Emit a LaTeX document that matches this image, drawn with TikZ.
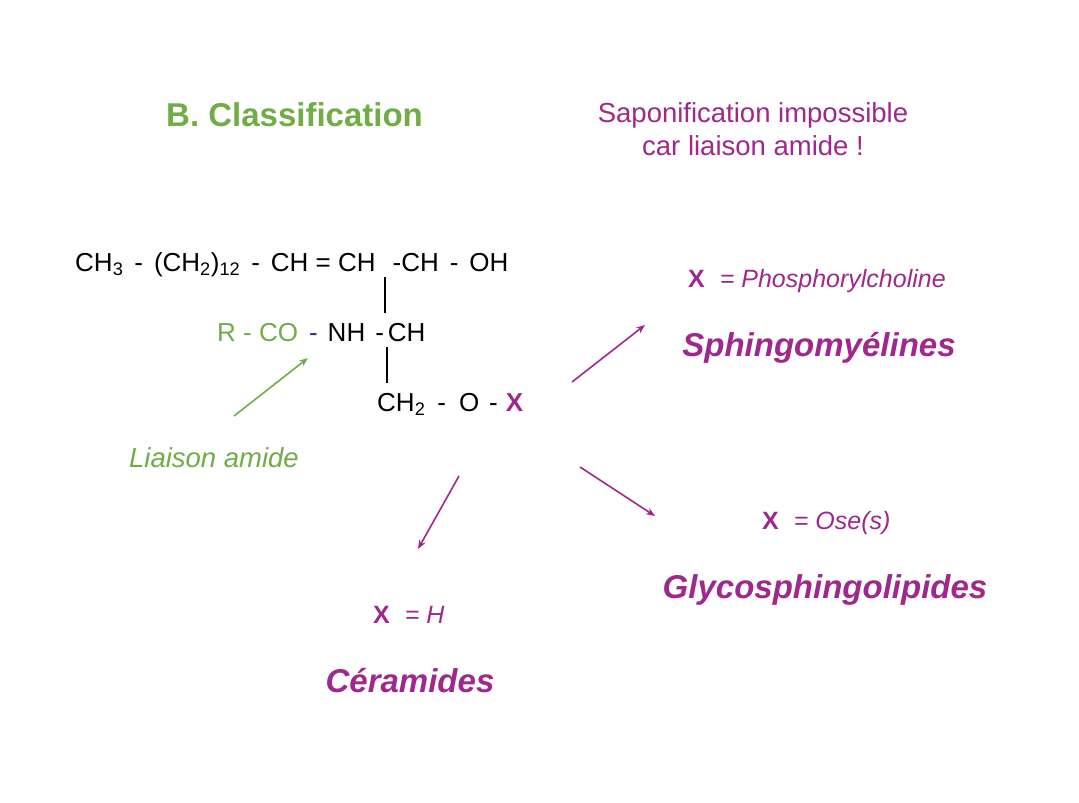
\documentclass[tikz,border=0pt]{standalone}
\usepackage{fontspec}
\setmainfont{Liberation Sans}
\usetikzlibrary{arrows.meta,positioning}

\definecolor{vert}{RGB}{112,173,71}
\definecolor{mauve}{RGB}{160,40,140}
\definecolor{bleu}{RGB}{40,50,130}

\tikzset{
  fleche/.style={line width=1.6pt, -{Stealth[length=9pt,width=7pt]}},
  trait/.style={line width=1.2pt},
  formule/.style={inner sep=0pt, anchor=base west, font=\fontsize{26}{30}\selectfont},
  valeur/.style={inner sep=0pt, anchor=base west, text=mauve, font=\fontsize{25}{30}\selectfont},
  famille/.style={inner sep=0pt, anchor=base, text=mauve, font=\fontsize{33}{40}\selectfont\bfseries\itshape},
}

\begin{document}
\begin{tikzpicture}[x=1pt,y=-1pt]
  \useasboundingbox[fill=white] (0,0) rectangle (1079,803);

  \node (titre) [inner sep=0pt, anchor=base west, text=vert, font=\fontsize{33}{40}\selectfont\bfseries] at (166,126) {B. Classification};
  \node (sapoA) [inner sep=0pt, anchor=base, text=mauve, font=\fontsize{27.5}{32}\selectfont] at (753,122) {Saponification impossible};
  \node (sapoB) [inner sep=0pt, anchor=base, text=mauve, font=\fontsize{27.5}{32}\selectfont] at (753,155) {car liaison amide !};

  % la formule
  \node (ligneA) [formule] at (75,271) {CH\textsubscript{3}\hspace{11pt}-\hspace{11pt}(CH\textsubscript{2})\textsubscript{12}\hspace{11pt}-\hspace{11pt}CH = CH\hspace{17pt}-CH\hspace{11pt}-\hspace{11pt}OH};
  \node (ligneB) [formule] at (217,341) {\textcolor{vert}{R - CO}\hspace{11pt}\textcolor{bleu}{-}\hspace{10pt}NH\hspace{10pt}-\hspace{4pt}CH};
  \node (ligneC) [formule] at (377,411) {CH\textsubscript{2}\hspace{12pt}-\hspace{13pt}O\hspace{10pt}-\hspace{8pt}\textcolor{mauve}{\bfseries X}};

  \coordinate (barreA1) at (385,277);
  \coordinate (barreA2) at (385,313);
  \coordinate (barreB1) at (387,347);
  \coordinate (barreB2) at (387,383);
  \draw[trait] (barreA1) -- (barreA2);
  \draw[trait] (barreB1) -- (barreB2);

  % liaison amide
  \node (amide) [inner sep=0pt, anchor=base, text=vert, font=\fontsize{27.5}{32}\selectfont\itshape] at (214,467) {Liaison amide};
  \coordinate (amideA) at (234,416);
  \coordinate (amideB) at (308,358);
  \draw[fleche, vert] (amideA) -- (amideB);

  % les trois familles
  \node (xS) [valeur] at (688,287) {\textbf{X}\hspace{15pt}{\itshape = Phosphorylcholine}};
  \node (sphingo) [famille] at (819,356) {Sphingomyélines};

  \node (xG) [valeur] at (762,529) {\textbf{X}\hspace{15pt}{\itshape = Ose(s)}};
  \node (glyco) [famille] at (825,598) {Glycosphingolipides};

  \node (xC) [valeur] at (373,623) {\textbf{X}\hspace{15pt}{\itshape = H}};
  \node (cera) [famille] at (410,692) {Céramides};

  \coordinate (depS) at (572,382);
  \coordinate (finS) at (645,325);
  \coordinate (depC) at (459,476);
  \coordinate (finC) at (418,549);
  \coordinate (depG) at (580,467);
  \coordinate (finG) at (655,516);
  \draw[fleche, mauve] (depS) -- (finS);
  \draw[fleche, mauve] (depC) -- (finC);
  \draw[fleche, mauve] (depG) -- (finG);

\end{tikzpicture}
\end{document}
